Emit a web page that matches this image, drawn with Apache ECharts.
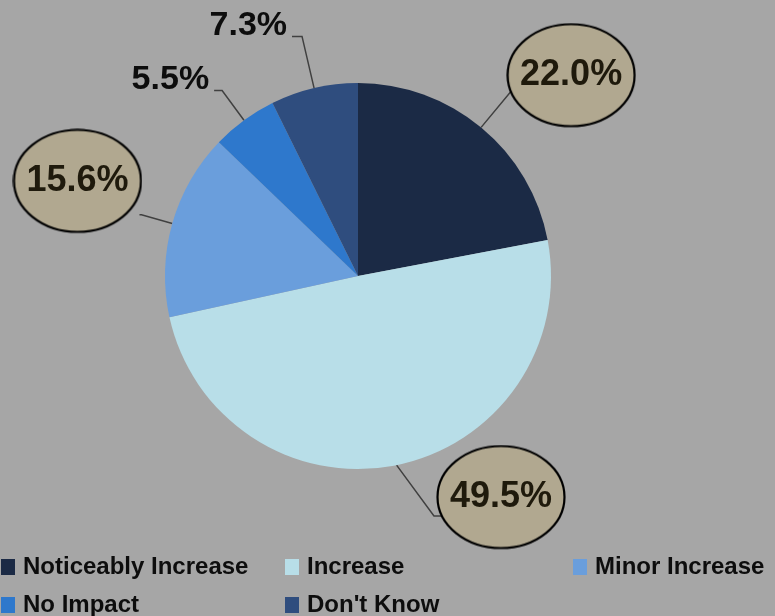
<!DOCTYPE html>
<html>
<head>
<meta charset="utf-8">
<style>
  html, body { margin: 0; padding: 0; background: #a6a6a6; }
  #chart { width: 775px; height: 616px; }
</style>
<script src="https://cdn.jsdelivr.net/npm/echarts@6/dist/echarts.min.js"></script>
</head>
<body>
<div id="chart"></div>
<script>
// ---- data ----
const categories = ['Noticeably Increase', 'Increase', 'Minor Increase', 'No Impact', "Don't Know"];
const values = [22.0, 49.5, 15.6, 5.5, 7.3];
const colors = ['#1b2a45', '#b8dee8', '#6a9edc', '#2e78cc', '#2f4d7e'];
const legendColumns = [
  ['Noticeably Increase', 'No Impact'],
  ['Increase', "Don't Know"],
  ['Minor Increase']
];

// ---- styling helpers ----
const FONT = "'Liberation Sans', Arial, sans-serif";
const ELL_W = 130, ELL_H = 105, LINE_H = 40;

function ellipseImage(offset) {
  const c = document.createElement('canvas');
  const H = ELL_H + 2 * offset;
  c.width = ELL_W; c.height = H;
  const g = c.getContext('2d');
  g.beginPath();
  g.ellipse(ELL_W / 2, ELL_H / 2, ELL_W / 2 - 1.5, ELL_H / 2 - 1.5, 0, 0, Math.PI * 2);
  g.fillStyle = '#b1a890';
  g.fill();
  g.lineWidth = 2.2;
  g.strokeStyle = '#000';
  g.stroke();
  return c;
}

function ellipseLabel(offset, distance) {
  const top = ELL_H / 2 - LINE_H / 2;
  const bottom = ELL_H + 2 * offset - top - LINE_H;
  return {
    backgroundColor: { image: ellipseImage(offset) },
    padding: [top, 0, bottom, 0],
    distanceToLabelLine: distance,
    formatter: p => '{e|' + p.value.toFixed(1) + '%}',
    rich: {
      e: {
        width: ELL_W, align: 'center', lineHeight: LINE_H, height: LINE_H,
        fontSize: 36, fontWeight: 'bold', fontFamily: FONT, color: '#1f1a0c'
      }
    }
  };
}

function plainLabel() {
  return {
    backgroundColor: 'rgba(0,0,0,0)',
    padding: [0, 0, 22, 0],
    distanceToLabelLine: 5,
    formatter: p => '{t|' + p.value.toFixed(1) + '%}',
    rich: {
      t: {
        lineHeight: 34, height: 34,
        fontSize: 34, fontWeight: 'bold', fontFamily: FONT, color: '#0d0d0d'
      }
    }
  };
}

const labelSpecs = [
  { label: ellipseLabel(16, -8), line: { length: 47, length2: 3 } },
  { label: ellipseLabel(19, 5), line: { length: 52, length2: 24 } },
  { label: ellipseLabel(34, -3), line: { length: 32, length2: 2 } },
  { label: plainLabel(), line: { length: 37, length2: 8 } },
  { label: plainLabel(), line: { length: 53, length2: 10 } }
];

const data = categories.map((name, i) => ({
  name,
  value: values[i],
  itemStyle: { color: colors[i] },
  label: labelSpecs[i].label,
  labelLine: labelSpecs[i].line
}));

const legendLefts = [1, 285, 573];
const legends = legendColumns.map((col, i) => ({
  data: col,
  orient: 'vertical',
  left: legendLefts[i],
  top: 555,
  height: 100,
  padding: 0,
  icon: 'rect',
  itemWidth: 14,
  itemHeight: 16,
  itemGap: 14,
  selectedMode: false,
  textStyle: {
    fontSize: 24, fontWeight: 'bold', fontFamily: FONT, color: '#0d0d0d',
    lineHeight: 24, padding: [0, 0, 0, 3]
  }
}));

const chart = echarts.init(document.getElementById('chart'));
chart.setOption({
  backgroundColor: '#a6a6a6',
  animation: false,
  color: colors,
  legend: legends,
  series: [{
    type: 'pie',
    center: [358, 276],
    radius: 193,
    startAngle: 90,
    clockwise: true,
    avoidLabelOverlap: false,
    labelLayout: function (params) {
      // the large bottom slice: callout line runs diagonally into the ellipse's left side
      if (params.dataIndex === 1 && params.labelLinePoints) {
        const r = params.labelRect;
        const y = r.y + r.height / 2;
        return {
          hideOverlap: false,
          labelLinePoints: [params.labelLinePoints[0], [r.x - 2, y], [r.x + 7, y]]
        };
      }
      return { hideOverlap: false };
    },
    label: { show: true, position: 'outside', alignTo: 'none' },
    labelLine: { show: true, lineStyle: { color: '#404040', width: 1.5 } },
    emphasis: { disabled: true },
    data
  }]
});
</script>
</body>
</html>
